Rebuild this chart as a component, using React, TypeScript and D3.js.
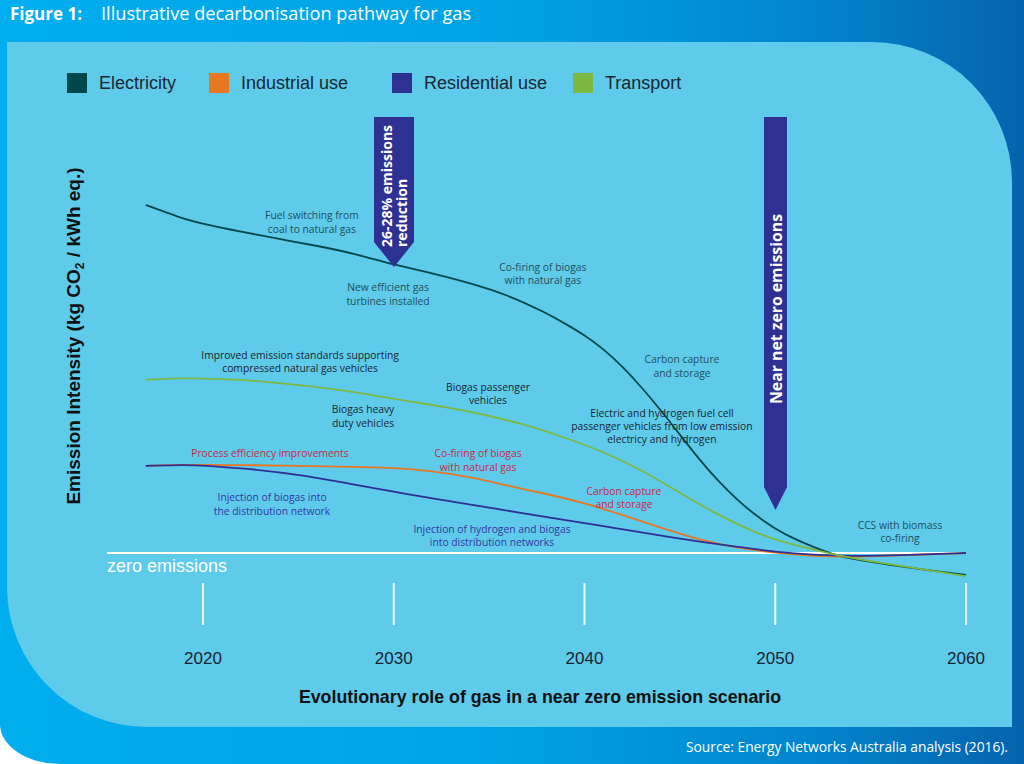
import React from "react";
import * as d3 from "d3";

type Pt = { year: number; v: number };

const electricityYears = [2017, 2018, 2019, 2020, 2022, 2024, 2026, 2028, 2030, 2032, 2034, 2036, 2038, 2039, 2040, 2041, 2042, 2043, 2044, 2045, 2046, 2047, 2048, 2049, 2050, 2051, 2052, 2053, 2054, 2056, 2058, 2060];
const electricityValues = [0.870, 0.853, 0.835, 0.823, 0.803, 0.785, 0.768, 0.748, 0.720, 0.700, 0.675, 0.645, 0.600, 0.573, 0.545, 0.510, 0.466, 0.414, 0.357, 0.296, 0.235, 0.180, 0.133, 0.093, 0.060, 0.035, 0.015, -0.003, -0.015, -0.030, -0.043, -0.055];

const transportYears = [2017, 2019, 2021, 2023, 2025, 2028, 2030, 2033, 2035, 2037, 2039, 2041, 2043, 2045, 2047, 2049, 2050, 2052, 2054, 2056, 2058, 2060];
const transportValues = [0.433, 0.438, 0.435, 0.430, 0.420, 0.403, 0.385, 0.363, 0.343, 0.320, 0.288, 0.253, 0.208, 0.150, 0.095, 0.050, 0.033, 0.008, -0.013, -0.028, -0.043, -0.058];

const industrialYears = [2017, 2019, 2022, 2025, 2028, 2030, 2032, 2034, 2036, 2038, 2040, 2042, 2044, 2046, 2048, 2050, 2052, 2054, 2057, 2060];
const industrialValues = [0.218, 0.221, 0.220, 0.218, 0.215, 0.213, 0.205, 0.190, 0.168, 0.148, 0.125, 0.095, 0.063, 0.033, 0.013, 0.000, -0.008, -0.010, -0.005, 0.000];

const residentialYears = [2017, 2019, 2020, 2022, 2025, 2030, 2035, 2040, 2045, 2048, 2050, 2052, 2054, 2057, 2060];
const residentialValues = [0.218, 0.220, 0.219, 0.212, 0.198, 0.152, 0.113, 0.075, 0.035, 0.015, 0.003, -0.005, -0.008, -0.005, 0.000];

const tickYears = [2020, 2030, 2040, 2050, 2060];

const seriesNames = ["Electricity", "Industrial use", "Residential use", "Transport"];
const seriesColors = ["#00474b", "#e87722", "#2e3192", "#7db843"];

const zip = (ys: number[], vs: number[]): Pt[] => ys.map((y, i) => ({ year: y, v: vs[i] }));

const FONT_SANS = "'Liberation Sans', Arial, sans-serif";
const FONT_G = "'Open Sans', 'Noto Sans', sans-serif";

type Note = { lines: string[]; year: number; v: number; color: string };

export default function App() {
  const x = d3.scaleLinear().domain([2020, 2060]).range([203, 966]);
  const y = d3.scaleLinear().domain([0, 1]).range([553, 153]);
  const line = d3
    .line<Pt>()
    .x((d) => x(d.year))
    .y((d) => y(d.v))
    .curve(d3.curveBasis);

  const data = [
    zip(electricityYears, electricityValues),
    zip(industrialYears, industrialValues),
    zip(residentialYears, residentialValues),
    zip(transportYears, transportValues),
  ];

  const cElec = "#1f4f5c";
  const cTrans = "#1c2430";
  const cInd = "#c8283f";
  const cRes = "#3237a0";

  const notes: Note[] = [
    { lines: ["Fuel switching from", "coal to natural gas"], year: 2025.71, v: 0.834, color: cElec },
    { lines: ["New efficient gas", "turbines installed"], year: 2029.7, v: 0.654, color: cElec },
    { lines: ["Co-firing of biogas", "with natural gas"], year: 2037.82, v: 0.706, color: cElec },
    { lines: ["Carbon capture", "and storage"], year: 2045.11, v: 0.474, color: cElec },
    { lines: ["CCS with biomass", "co-firing"], year: 2056.54, v: 0.061, color: cElec },
    { lines: ["Improved emission standards supporting", "compressed natural gas vehicles"], year: 2025.09, v: 0.486, color: cTrans },
    { lines: ["Biogas passenger", "vehicles"], year: 2034.94, v: 0.406, color: cTrans },
    { lines: ["Biogas heavy", "duty vehicles"], year: 2028.39, v: 0.349, color: cTrans },
    { lines: ["Electric and hydrogen fuel cell", "passenger vehicles from low emission", "electricy and hydrogen"], year: 2044.06, v: 0.341, color: cTrans },
    { lines: ["Process efficiency improvements"], year: 2023.51, v: 0.241, color: cInd },
    { lines: ["Co-firing of biogas", "with natural gas"], year: 2034.42, v: 0.239, color: cInd },
    { lines: ["Carbon capture", "and storage"], year: 2042.07, v: 0.146, color: cInd },
    { lines: ["Injection of biogas into", "the distribution network"], year: 2023.62, v: 0.129, color: cRes },
    { lines: ["Injection of hydrogen and biogas", "into distribution networks"], year: 2035.15, v: 0.051, color: cRes },
  ];

  const zeroY = y(0);

  return (
    <div style={{ position: "absolute", left: 0, top: 0, width: 1024, height: 764, background: "#fff" }}>
      <svg width={1024} height={764} viewBox="0 0 1024 764" style={{ display: "block" }}>
        <defs>
          <linearGradient id="outerGrad" x1="0" y1="0" x2="1" y2="0">
            <stop offset="0%" stopColor="#00aeef" />
            <stop offset="50%" stopColor="#00a2e4" />
            <stop offset="80%" stopColor="#0284cc" />
            <stop offset="100%" stopColor="#0563ad" />
          </linearGradient>
        </defs>
        <path d="M0,0 H1024 V764 H60 A60,40 0 0 1 0,724 Z" fill="url(#outerGrad)" />
        <path d="M7,42 H872 A140,140 0 0 1 1012,182 V727 H147 A140,140 0 0 1 7,587 Z" fill="#5ecbeb" />

        {/* Title */}
        <text x={10} y={20} fill="#fff" fontFamily={FONT_G} fontSize={17} fontWeight={700}>Figure 1:</text>
        <text x={101} y={20} fill="#fff" fontFamily={FONT_G} fontSize={18.2}>Illustrative decarbonisation pathway for gas</text>

        {/* Legend */}
        {seriesNames.map((n, i) => {
          const lx = [67, 209, 392, 573][i];
          return (
            <g key={n}>
              <rect x={lx} y={73} width={20} height={20} fill={seriesColors[i]} />
              <text x={lx + 32} y={89} fill="#1b2733" fontFamily={FONT_SANS} fontSize={18}>{n}</text>
            </g>
          );
        })}

        {/* Zero line */}
        <line x1={107} x2={966} y1={zeroY} y2={zeroY} stroke="#ffffff" strokeWidth={2} />
        <text x={107} y={572} fill="#fff" fontFamily={FONT_SANS} fontSize={18}>zero emissions</text>

        {/* Ticks */}
        {tickYears.map((t) => (
          <g key={t}>
            <line x1={x(t)} x2={x(t)} y1={583} y2={625} stroke="#eaf7fc" strokeWidth={2} />
            <text x={x(t)} y={664} textAnchor="middle" fill="#1a2330" fontFamily={FONT_SANS} fontSize={17}>{t}</text>
          </g>
        ))}

        {/* Axis titles */}
        <text x={540} y={703} textAnchor="middle" fill="#111" fontFamily={FONT_SANS} fontSize={17.8} fontWeight={700}>
          Evolutionary role of gas in a near zero emission scenario
        </text>
        <text transform="translate(80,336) rotate(-90)" textAnchor="middle" fill="#111" fontFamily={FONT_SANS} fontSize={19} fontWeight={700}>
          Emission Intensity (kg CO<tspan fontSize={12} dy={4}>2</tspan><tspan dy={-4}> / kWh eq.)</tspan>
        </text>

        {/* Lines */}
        {data.map((d, i) => (
          <path key={i} d={line(d) || ""} fill="none" stroke={seriesColors[i]} strokeWidth={1.8} />
        ))}

        {/* Annotations */}
        {notes.map((n, i) => (
          <text key={i} textAnchor="middle" fill={n.color} fontFamily={FONT_G} fontSize={10.3}>
            {n.lines.map((l, j) => (
              <tspan key={j} x={x(n.year)} y={y(n.v) + j * 13.4}>{l}</tspan>
            ))}
          </text>
        ))}

        {/* Arrow 1 */}
        <path d="M374,117 H414 V242 L394,267 L374,242 Z" fill="#2e3192" />
        <text transform="translate(392,247) rotate(-90)" fill="#fff" fontFamily={FONT_G} fontSize={14} fontWeight={700}>26-28% emissions</text>
        <text transform="translate(407,247) rotate(-90)" fill="#fff" fontFamily={FONT_G} fontSize={14} fontWeight={700}>reduction</text>

        {/* Arrow 2 */}
        <path d="M764,117 H787 V487 L775.5,510 L764,487 Z" fill="#2e3192" />
        <text transform="translate(782,309) rotate(-90)" textAnchor="middle" fill="#fff" fontFamily={FONT_G} fontSize={15.8} fontWeight={700}>Near net zero emissions</text>

        {/* Source */}
        <text x={1008} y={752} textAnchor="end" fill="#fff" fontFamily={FONT_G} fontSize={13.8}>Source: Energy Networks Australia analysis (2016).</text>
      </svg>
    </div>
  );
}
